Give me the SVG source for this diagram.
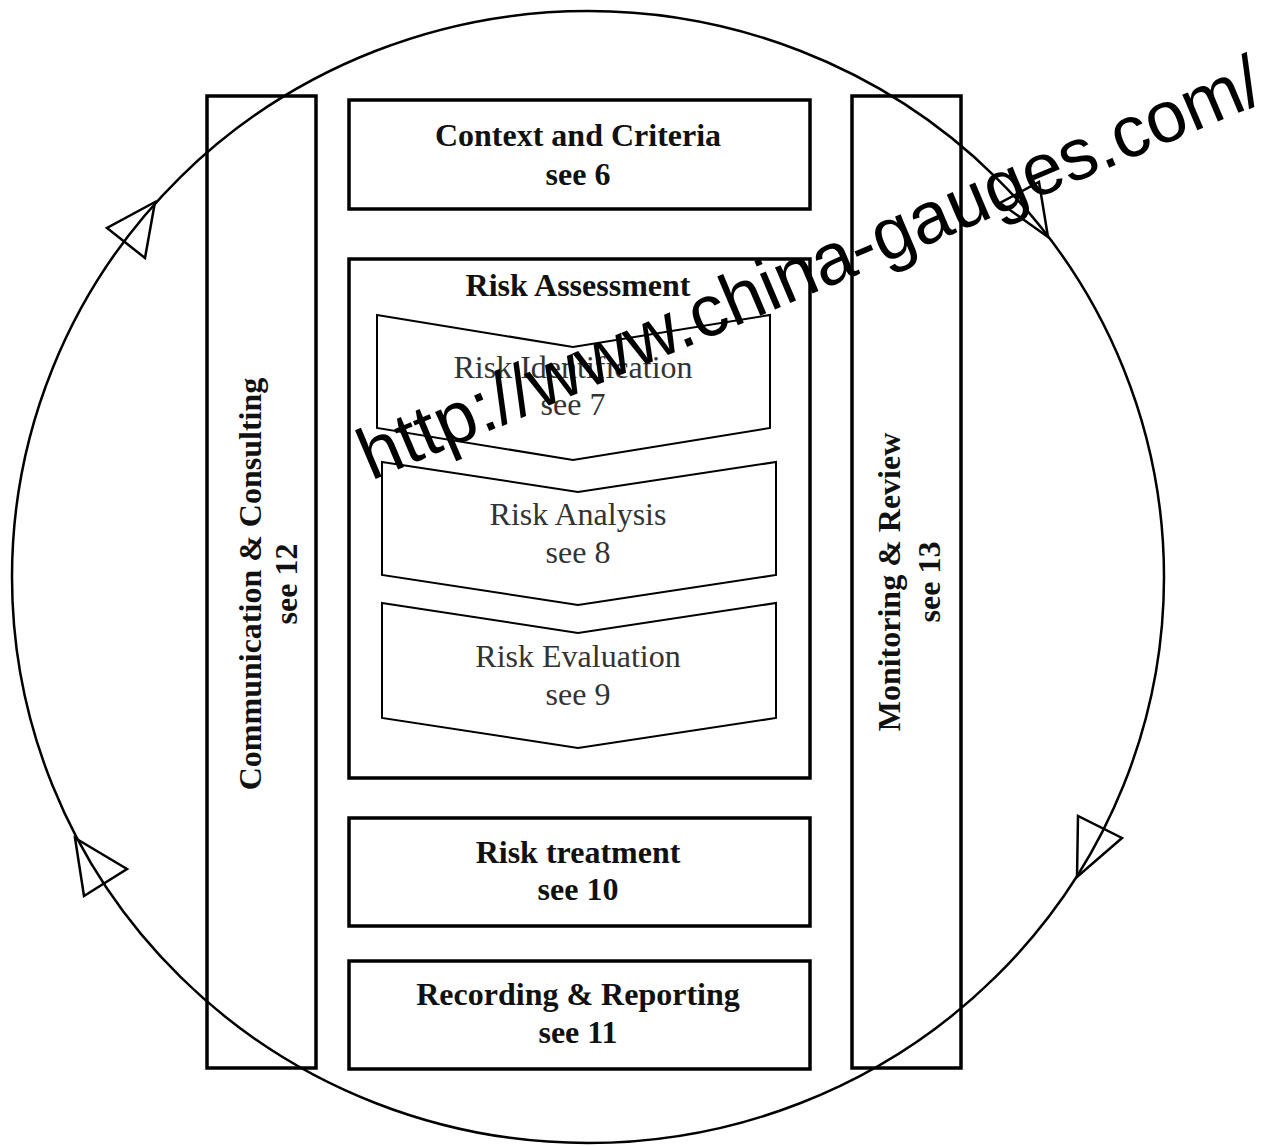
<svg xmlns="http://www.w3.org/2000/svg" width="1266" height="1146" viewBox="0 0 1266 1146">
<style>
.box{fill:none;stroke:#000;stroke-width:3.5}
.chev{fill:none;stroke:#000;stroke-width:2}
.b{font-family:"Liberation Serif",serif;font-weight:bold;font-size:32px;fill:#111;text-anchor:middle}
.r{font-family:"Liberation Serif",serif;font-size:32px;fill:#333;text-anchor:middle}
.conn{fill:none;stroke:#000;stroke-width:2.5}
.arr{fill:none;stroke:#000;stroke-width:2.5;stroke-linejoin:miter}
.wm{font-family:"Liberation Sans",Arial,sans-serif;font-size:73px;fill:#000}
</style>
<rect width="1266" height="1146" fill="#fff"/>
<g id="communication">
<rect class="box" x="207" y="96" width="109" height="972"/>
<text class="b" transform="translate(261,584) rotate(-90)">Communication &amp; Consulting</text>
<text class="b" transform="translate(297,584) rotate(-90)">see 12</text>
</g>
<g id="monitoring">
<rect class="box" x="852" y="96" width="109" height="972"/>
<text class="b" transform="translate(900,582) rotate(-90)">Monitoring &amp; Review</text>
<text class="b" transform="translate(940,582) rotate(-90)">see 13</text>
</g>
<g id="context">
<rect class="box" x="349" y="100" width="461" height="109"/>
<text class="b" x="578" y="146">Context and Criteria</text>
<text class="b" x="578" y="185">see 6</text>
</g>
<g id="assessment">
<rect class="box" x="349" y="259" width="461" height="519"/>
<text class="b" x="578" y="296">Risk Assessment</text>
</g>
<g id="identification">
<polygon class="chev" points="377,315 573,347 770,315 770,428 573,460 377,428"/>
<text class="r" x="573" y="378">Risk Identification</text>
<text class="r" x="573" y="415">see 7</text>
</g>
<g id="analysis">
<polygon class="chev" points="382,462 578,492 776,462 776,575 578,605 382,575"/>
<text class="r" x="578" y="525">Risk Analysis</text>
<text class="r" x="578" y="563">see 8</text>
</g>
<g id="evaluation">
<polygon class="chev" points="382,603 578,633 776,603 776,718 578,748 382,718"/>
<text class="r" x="578" y="667">Risk Evaluation</text>
<text class="r" x="578" y="705">see 9</text>
</g>
<g id="treatment">
<rect class="box" x="349" y="818" width="461" height="108"/>
<text class="b" x="578" y="863">Risk treatment</text>
<text class="b" x="578" y="900">see 10</text>
</g>
<g id="recording">
<rect class="box" x="349" y="961" width="461" height="108"/>
<text class="b" x="578" y="1005">Recording &amp; Reporting</text>
<text class="b" x="578" y="1043">see 11</text>
</g>
<g id="connectors">
<ellipse class="conn" cx="588" cy="577" rx="576" ry="566"/>
<polygon class="arr" points="155,202 107,228 145,258"/>
<polygon class="arr" points="75,838 127,869 84,896"/>
<polygon class="arr" points="1077,877 1078,816 1122,838"/>
<polygon class="arr" points="1048,237 1000,203 1039,182"/>
</g>
<text class="wm" transform="translate(371,481) rotate(-23)">http://www.china-gauges.com/</text>
</svg>
